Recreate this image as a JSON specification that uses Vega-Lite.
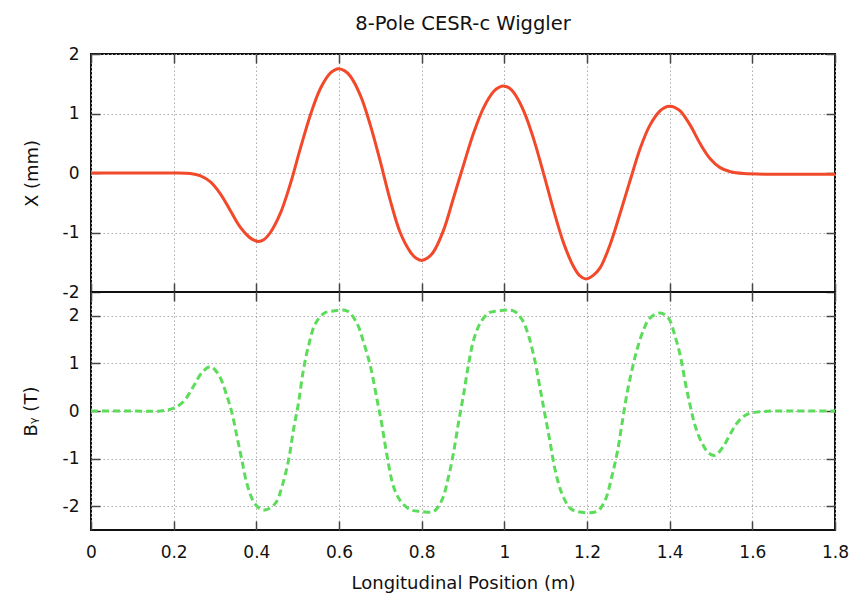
{
  "$schema": "https://vega.github.io/schema/vega-lite/v6.json",
  "autosize": {"type": "none"},
  "padding": {"left": 91, "top": 54, "right": 17, "bottom": 540},
  "background": "white",
  "bounds": "flush",
  "title": {"text": "8-Pole CESR-c Wiggler", "font": "DejaVu Sans", "fontSize": 19.5, "fontWeight": "normal", "color": "#111", "offset": 10, "anchor": "middle", "frame": "group"},
  "datasets": {
    "xo": [
      {"z": 0, "X": 0}, {"z": 0.1, "X": 0}, {"z": 0.2, "X": 0}, {"z": 0.24, "X": -0.01}, {"z": 0.265, "X": -0.05},
      {"z": 0.289, "X": -0.15}, {"z": 0.313, "X": -0.35}, {"z": 0.337, "X": -0.63}, {"z": 0.361, "X": -0.91},
      {"z": 0.383, "X": -1.08}, {"z": 0.394, "X": -1.13}, {"z": 0.405, "X": -1.15}, {"z": 0.418, "X": -1.12}, {"z": 0.434, "X": -1.0}, {"z": 0.458, "X": -0.68},
      {"z": 0.482, "X": -0.19}, {"z": 0.506, "X": 0.4}, {"z": 0.531, "X": 0.98}, {"z": 0.555, "X": 1.42},
      {"z": 0.579, "X": 1.68}, {"z": 0.589, "X": 1.73}, {"z": 0.6, "X": 1.75}, {"z": 0.613, "X": 1.72}, {"z": 0.627, "X": 1.63}, {"z": 0.652, "X": 1.3},
      {"z": 0.676, "X": 0.8}, {"z": 0.7, "X": 0.19}, {"z": 0.724, "X": -0.46}, {"z": 0.748, "X": -1.0},
      {"z": 0.772, "X": -1.32}, {"z": 0.786, "X": -1.43}, {"z": 0.8, "X": -1.47}, {"z": 0.814, "X": -1.43}, {"z": 0.829, "X": -1.32}, {"z": 0.853, "X": -0.96},
      {"z": 0.877, "X": -0.42}, {"z": 0.902, "X": 0.15}, {"z": 0.926, "X": 0.68}, {"z": 0.95, "X": 1.1},
      {"z": 0.974, "X": 1.37}, {"z": 0.987, "X": 1.44}, {"z": 1.0, "X": 1.46}, {"z": 1.012, "X": 1.43}, {"z": 1.023, "X": 1.35}, {"z": 1.047, "X": 1.04},
      {"z": 1.071, "X": 0.57}, {"z": 1.095, "X": -0.01}, {"z": 1.119, "X": -0.62}, {"z": 1.143, "X": -1.17},
      {"z": 1.168, "X": -1.58}, {"z": 1.183, "X": -1.73}, {"z": 1.197, "X": -1.78}, {"z": 1.215, "X": -1.72}, {"z": 1.232, "X": -1.59}, {"z": 1.256, "X": -1.2},
      {"z": 1.28, "X": -0.68}, {"z": 1.305, "X": -0.11}, {"z": 1.329, "X": 0.42}, {"z": 1.352, "X": 0.8},
      {"z": 1.376, "X": 1.04}, {"z": 1.388, "X": 1.1}, {"z": 1.4, "X": 1.12}, {"z": 1.413, "X": 1.1}, {"z": 1.426, "X": 1.04}, {"z": 1.45, "X": 0.8},
      {"z": 1.474, "X": 0.49}, {"z": 1.498, "X": 0.24}, {"z": 1.522, "X": 0.09}, {"z": 1.547, "X": 0.02},
      {"z": 1.579, "X": -0.01}, {"z": 1.65, "X": -0.02}, {"z": 1.8, "X": -0.02}
    ],
    "by": [
      {"z": 0, "B": 0}, {"z": 0.1, "B": 0}, {"z": 0.168, "B": 0}, {"z": 0.2, "B": 0.06}, {"z": 0.224, "B": 0.2},
      {"z": 0.248, "B": 0.52}, {"z": 0.268, "B": 0.8}, {"z": 0.289, "B": 0.93}, {"z": 0.309, "B": 0.76},
      {"z": 0.329, "B": 0.31}, {"z": 0.341, "B": -0.04}, {"z": 0.353, "B": -0.53}, {"z": 0.365, "B": -1.03},
      {"z": 0.377, "B": -1.52}, {"z": 0.393, "B": -1.9}, {"z": 0.408, "B": -2.05}, {"z": 0.421, "B": -2.08},
      {"z": 0.446, "B": -1.94}, {"z": 0.462, "B": -1.59}, {"z": 0.478, "B": -1.03}, {"z": 0.49, "B": -0.39},
      {"z": 0.502, "B": 0.17}, {"z": 0.514, "B": 0.87}, {"z": 0.526, "B": 1.36}, {"z": 0.542, "B": 1.82},
      {"z": 0.563, "B": 2.05}, {"z": 0.585, "B": 2.1}, {"z": 0.62, "B": 2.1}, {"z": 0.643, "B": 1.85},
      {"z": 0.66, "B": 1.43}, {"z": 0.676, "B": 0.94}, {"z": 0.692, "B": 0.24}, {"z": 0.703, "B": -0.25},
      {"z": 0.715, "B": -0.88}, {"z": 0.732, "B": -1.59}, {"z": 0.748, "B": -1.88}, {"z": 0.772, "B": -2.07},
      {"z": 0.797, "B": -2.11}, {"z": 0.829, "B": -2.11}, {"z": 0.849, "B": -1.87}, {"z": 0.865, "B": -1.38},
      {"z": 0.877, "B": -0.88}, {"z": 0.889, "B": -0.25}, {"z": 0.902, "B": 0.38}, {"z": 0.914, "B": 1.01},
      {"z": 0.926, "B": 1.5}, {"z": 0.942, "B": 1.85}, {"z": 0.962, "B": 2.06}, {"z": 0.982, "B": 2.1},
      {"z": 1.023, "B": 2.1}, {"z": 1.043, "B": 1.92}, {"z": 1.059, "B": 1.57}, {"z": 1.075, "B": 1.01},
      {"z": 1.087, "B": 0.45}, {"z": 1.099, "B": -0.11}, {"z": 1.111, "B": -0.67}, {"z": 1.123, "B": -1.24},
      {"z": 1.139, "B": -1.73}, {"z": 1.159, "B": -2.04}, {"z": 1.176, "B": -2.11}, {"z": 1.224, "B": -2.11},
      {"z": 1.244, "B": -1.87}, {"z": 1.26, "B": -1.38}, {"z": 1.273, "B": -0.88}, {"z": 1.285, "B": -0.25},
      {"z": 1.297, "B": 0.38}, {"z": 1.309, "B": 0.87}, {"z": 1.321, "B": 1.29}, {"z": 1.337, "B": 1.71},
      {"z": 1.352, "B": 1.95}, {"z": 1.377, "B": 2.06}, {"z": 1.397, "B": 1.95}, {"z": 1.413, "B": 1.57},
      {"z": 1.426, "B": 1.15}, {"z": 1.438, "B": 0.59}, {"z": 1.45, "B": 0.1}, {"z": 1.462, "B": -0.32},
      {"z": 1.478, "B": -0.67}, {"z": 1.494, "B": -0.88}, {"z": 1.51, "B": -0.93}, {"z": 1.53, "B": -0.74},
      {"z": 1.55, "B": -0.43}, {"z": 1.57, "B": -0.18}, {"z": 1.59, "B": -0.06}, {"z": 1.627, "B": -0.01},
      {"z": 1.7, "B": 0}, {"z": 1.8, "B": 0}
    ]
  },
  "spacing": 0,
  "vconcat": [
    {
      "width": 744, "height": 238,
      "data": {"name": "xo"},
      "layer": [
        {
          "mark": {"type": "line", "color": "#f2492b", "strokeWidth": 3, "interpolate": "catmull-rom"},
          "encoding": {
            "x": {"field": "z", "type": "quantitative", "scale": {"domain": [0, 1.8], "nice": false},
                  "axis": {"orient": "bottom", "values": [0, 0.2, 0.4, 0.6, 0.8, 1, 1.2, 1.4, 1.6, 1.8], "labels": false, "title": null, "grid": true, "tickSize": -9}},
            "y": {"field": "X", "type": "quantitative", "scale": {"domain": [-2, 2], "nice": false},
                  "axis": {"orient": "left", "values": [-2, -1, 0, 1, 2], "title": "X (mm)", "grid": true, "tickSize": -9, "labelPadding": 21, "labelFlush": false, "titleX": -59, "titleY": 119, "titleBaseline": "middle",
                           "labelExpr": "datum.value < 0 ? '-' + format(-datum.value, '~g') : format(datum.value, '~g')"}}
          }
        },
        {
          "mark": {"type": "line", "strokeOpacity": 0},
          "encoding": {
            "x": {"field": "z", "type": "quantitative", "axis": {"orient": "top", "values": [0, 0.2, 0.4, 0.6, 0.8, 1, 1.2, 1.4, 1.6, 1.8], "labels": false, "title": null, "grid": false, "tickSize": -9}},
            "y": {"field": "X", "type": "quantitative", "axis": {"orient": "right", "values": [-2, -1, 0, 1, 2], "labels": false, "title": null, "grid": false, "tickSize": -9}}
          }
        }
      ],
      "resolve": {"axis": {"x": "independent", "y": "independent"}}
    },
    {
      "width": 744, "height": 238,
      "data": {"name": "by"},
      "layer": [
        {
          "mark": {"type": "line", "color": "#5cdc5a", "strokeWidth": 3, "strokeDash": [7, 4], "interpolate": "catmull-rom"},
          "encoding": {
            "x": {"field": "z", "type": "quantitative", "scale": {"domain": [0, 1.8], "nice": false},
                  "axis": {"orient": "bottom", "values": [0, 0.2, 0.4, 0.6, 0.8, 1, 1.2, 1.4, 1.6, 1.8], "title": "Longitudinal Position (m)", "grid": true, "tickSize": -9, "labelPadding": 23, "labelFlush": false, "labelOverlap": false, "titleY": 53, "titleBaseline": "middle",
                           "labelExpr": "format(datum.value, '~g')"}},
            "y": {"field": "B", "type": "quantitative", "scale": {"domain": [-2.5, 2.5], "nice": false},
                  "axis": {"orient": "left", "values": [-2, -1, 0, 1, 2], "title": "Bᵧ (T)", "grid": true, "tickSize": -9, "labelPadding": 21, "labelFlush": false, "titleX": -60, "titleY": 119, "titleBaseline": "middle",
                           "labelExpr": "datum.value < 0 ? '-' + format(-datum.value, '~g') : format(datum.value, '~g')"}}
          }
        },
        {
          "mark": {"type": "line", "strokeOpacity": 0},
          "encoding": {
            "x": {"field": "z", "type": "quantitative", "axis": {"orient": "top", "values": [0, 0.2, 0.4, 0.6, 0.8, 1, 1.2, 1.4, 1.6, 1.8], "labels": false, "title": null, "grid": false, "tickSize": -9}},
            "y": {"field": "B", "type": "quantitative", "axis": {"orient": "right", "values": [-2, -1, 0, 1, 2], "labels": false, "title": null, "grid": false, "tickSize": -9}}
          }
        }
      ],
      "resolve": {"axis": {"x": "independent", "y": "independent"}}
    }
  ],
  "config": {
    "view": {"stroke": "#111", "strokeWidth": 2},
    "axis": {
      "domain": false,
      "labelFont": "DejaVu Sans", "labelFontSize": 17, "labelColor": "#111",
      "titleFont": "DejaVu Sans", "titleFontSize": 18, "titleFontWeight": "normal", "titleColor": "#111",
      "gridColor": "#aaaaaa", "gridDash": [1.5, 2.5], "gridWidth": 1,
      "tickColor": "#444", "tickWidth": 1.5
    }
  }
}
